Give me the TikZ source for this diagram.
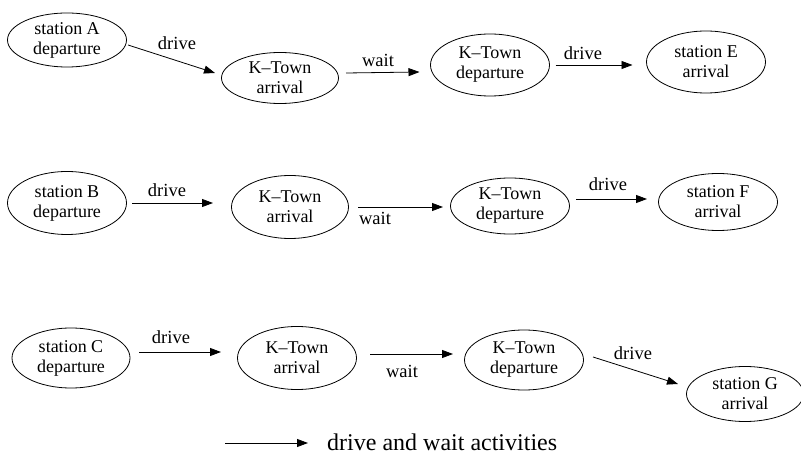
\documentclass[tikz,border=0pt]{standalone}
\usepackage{fontspec}
\setmainfont{Liberation Serif}
\usetikzlibrary{arrows.meta,positioning,shapes.geometric,calc}

\begin{document}
\begin{tikzpicture}[x=1pt, y=-1pt,
    ev/.style={ellipse, draw, line width=0.8pt, inner sep=0pt, outer sep=0pt,
               minimum width=119pt, minimum height=60pt, align=center,
               font=\fontsize{18}{20}\selectfont},
    act/.style={draw, line width=0.8pt, -{Triangle[length=11pt,width=8pt]}},
    lbl/.style={inner sep=0pt, font=\fontsize{18.5}{20}\selectfont}
  ]
    \useasboundingbox (0,0) rectangle (801,454);

    % Row 1: station A -> station E
    \node[ev, minimum height=54pt] (sa)  at (67,40)  {station A\\departure};
    \node[ev, minimum width=117pt, minimum height=51pt] (ka1) at (280,78) {K--Town\\arrival};
    \node[ev, minimum height=62pt] (kd1) at (490,65) {K--Town\\departure};
    \node[ev, minimum height=62pt] (se)  at (706,62) {station E\\arrival};
    \draw[act] ($(sa.east)+(1.5,5)$) -- ($(ka1.west)+(-6.5,-5)$);
    \draw[act] ($(ka1.east)+(7.5,-5)$) -- ($(kd1.west)+(-11,7)$);
    \draw[act] ($(kd1.east)+(6,0)$) -- ($(se.west)+(-14,3)$);
    \node[lbl] (da1) at (177,43) {drive};
    \node[lbl] (wt1) at (378,60) {wait};
    \node[lbl] (de1) at (583,53) {drive};

    % Row 2: station B -> station F
    \node[ev, minimum height=63pt] (sb)  at (67,203)  {station B\\departure};
    \node[ev, minimum width=117pt, minimum height=63pt] (ka2) at (290,207) {K--Town\\arrival};
    \node[ev, minimum height=56pt] (kd2) at (510,206) {K--Town\\departure};
    \node[ev, minimum height=57pt] (sf)  at (718,202) {station F\\arrival};
    \draw[act] ($(sb.east)+(5.5,0)$) -- ($(ka2.west)+(-18.5,-4)$);
    \draw[act] ($(ka2.east)+(9.5,0)$) -- ($(kd2.west)+(-7.5,1)$);
    \draw[act] ($(kd2.east)+(6.5,-7)$) -- ($(sf.west)+(-11.5,-3)$);
    \node[lbl] (da2) at (167,190) {drive};
    \node[lbl] (wt2) at (375,218) {wait};
    \node[lbl] (de2) at (608,184) {drive};

    % Row 3: station C -> station G
    \node[ev, minimum width=118pt] (sc)  at (71,358)  {station C\\departure};
    \node[ev, minimum height=63pt] (ka3) at (297,358) {K--Town\\arrival};
    \node[ev] (kd3) at (524,360) {K--Town\\departure};
    \node[ev, minimum width=117pt, minimum height=55pt] (sg) at (745,394) {station G\\arrival};
    \draw[act] ($(sc.east)+(9,-6)$) -- ($(ka3.west)+(-16.5,-6)$);
    \draw[act] ($(ka3.east)+(13.5,-4)$) -- ($(kd3.west)+(-11.5,-6)$);
    \draw[act] ($(kd3.east)+(9.5,-3)$) -- ($(sg.west)+(-8.5,-10)$);
    \node[lbl] (da3) at (171,337) {drive};
    \node[lbl] (wt3) at (402,371) {wait};
    \node[lbl] (dg3) at (633,353) {drive};

    % Legend
    \coordinate (lg1) at (225,443);
    \coordinate (lg2) at (308,443);
    \draw[act] (lg1) -- (lg2);
    \node[lbl, anchor=west, font=\fontsize{24}{28}\selectfont] (lgt) at (327,442) {drive and wait activities};
  \end{tikzpicture}
\end{document}
